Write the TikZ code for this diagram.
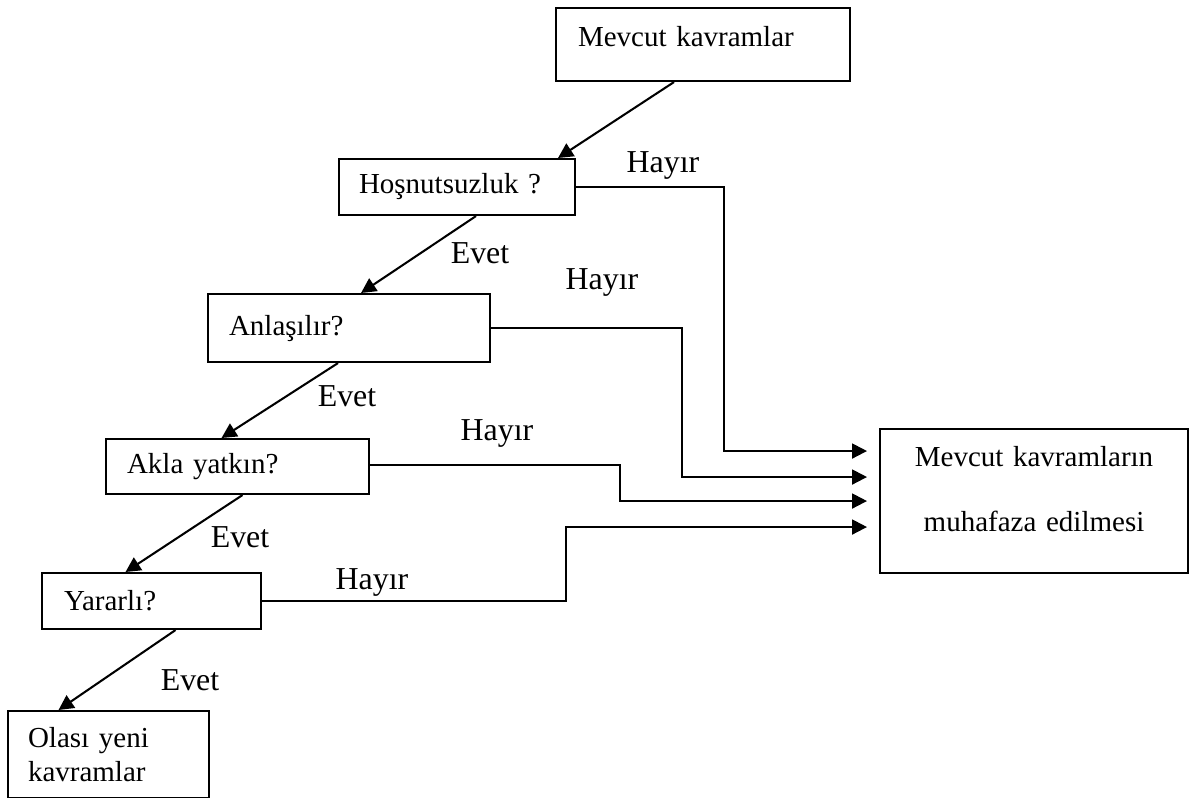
\documentclass[tikz,border=0pt]{standalone}
\usepackage{fontspec}
\setmainfont{Liberation Serif}
\usetikzlibrary{arrows.meta, calc}
\newcommand{\pxu}{0.4138pt}

\begin{document}
\begin{tikzpicture}[x=\pxu, y=-\pxu, >={Triangle[length=6.2pt, width=6.2pt]},
	line join=miter, font=\fontsize{12}{14.4}\selectfont,
	kutu/.style={draw, line width=0.85pt, anchor=north west, inner ysep=0pt, align=left},
	ok/.style={->, line width=0.85pt},
	etiket/.style={inner sep=0pt, font=\fontsize{13.2}{15.8}\selectfont}]
	
	\useasboundingbox (0,0) rectangle (1195,798);
	
	%========================
	% boxes
	%========================
	\node[kutu, inner xsep=22*\pxu, text width=250*\pxu, minimum height=73*\pxu, text depth=6.6pt]
	(mevcut) at (555,7) {Mevcut kavramlar};
	\node[kutu, inner xsep=20*\pxu, text width=196*\pxu, minimum height=56*\pxu]
	(hosnut) at (338,158) {Hoşnutsuzluk ?};
	\node[kutu, inner xsep=21*\pxu, text width=240*\pxu, minimum height=68*\pxu]
	(anlas) at (207,293) {Anlaşılır?};
	\node[kutu, inner xsep=21*\pxu, text width=221*\pxu, minimum height=55*\pxu]
	(akla) at (105,438) {Akla yatkın?};
	\node[kutu, inner xsep=22*\pxu, text width=175*\pxu, minimum height=56*\pxu]
	(yarar) at (41,572) {Yararlı?};
	\node[kutu, inner xsep=20*\pxu, text width=161*\pxu, minimum height=87*\pxu]
	(olasi) at (7,710) {Olası yeni\\kavramlar};
	
	% right: result box
	\node[kutu, align=center, inner xsep=0pt, text width=308*\pxu, minimum height=144*\pxu, text depth=37pt]
	(muhafaza) at (879,428) {Mevcut kavramların\\[12.5pt]muhafaza edilmesi};
	
	%========================
	% Evet: down the chain
	%========================
	\draw[ok] ($(mevcut.south)+(-29,0)$) -- ($(hosnut.north)+(101,0)$);
	\draw[ok] ($(hosnut.south)+(19,0)$) -- ($(anlas.north)+(12,0)$);
	\draw[ok] ($(anlas.south)+(-11,0)$) -- ($(akla.north)+(-16,0)$);
	\draw[ok] ($(akla.south)+(5,0)$) -- ($(yarar.north)+(-26,0)$);
	\draw[ok] ($(yarar.south)+(24,0)$) -- ($(olasi.north)+(-50,0)$);
	
	\node[etiket] (evet1) at (480,253) {Evet};
	\node[etiket] (evet2) at (347,396) {Evet};
	\node[etiket] (evet3) at (240,537) {Evet};
	\node[etiket] (evet4) at (190,680) {Evet};
	
	%========================
	% Hayir: into the result box
	%========================
	\coordinate (g1) at ($(muhafaza.west)+(-12,-50)$);
	\coordinate (g2) at ($(muhafaza.west)+(-12,-24)$);
	\coordinate (g3) at ($(muhafaza.west)+(-12,0)$);
	\coordinate (g4) at ($(muhafaza.west)+(-12,26)$);
	
	\draw[ok] (hosnut.east) -- ++(148,0) |- (g1);
	\draw[ok] (anlas.east) -- ++(191,0) |- (g2);
	\draw[ok] ($(akla.east)+(0,-2)$) -- ++(250,0) |- (g3);
	\draw[ok] (yarar.east) -- ++(304,0) |- (g4);
	
	\node[etiket] (hayir1) at (663,165) {Hayır};
	\node[etiket] (hayir2) at (602,282) {Hayır};
	\node[etiket] (hayir3) at (497,433) {Hayır};
	\node[etiket] (hayir4) at (372,582) {Hayır};
	
\end{tikzpicture}
\end{document}
